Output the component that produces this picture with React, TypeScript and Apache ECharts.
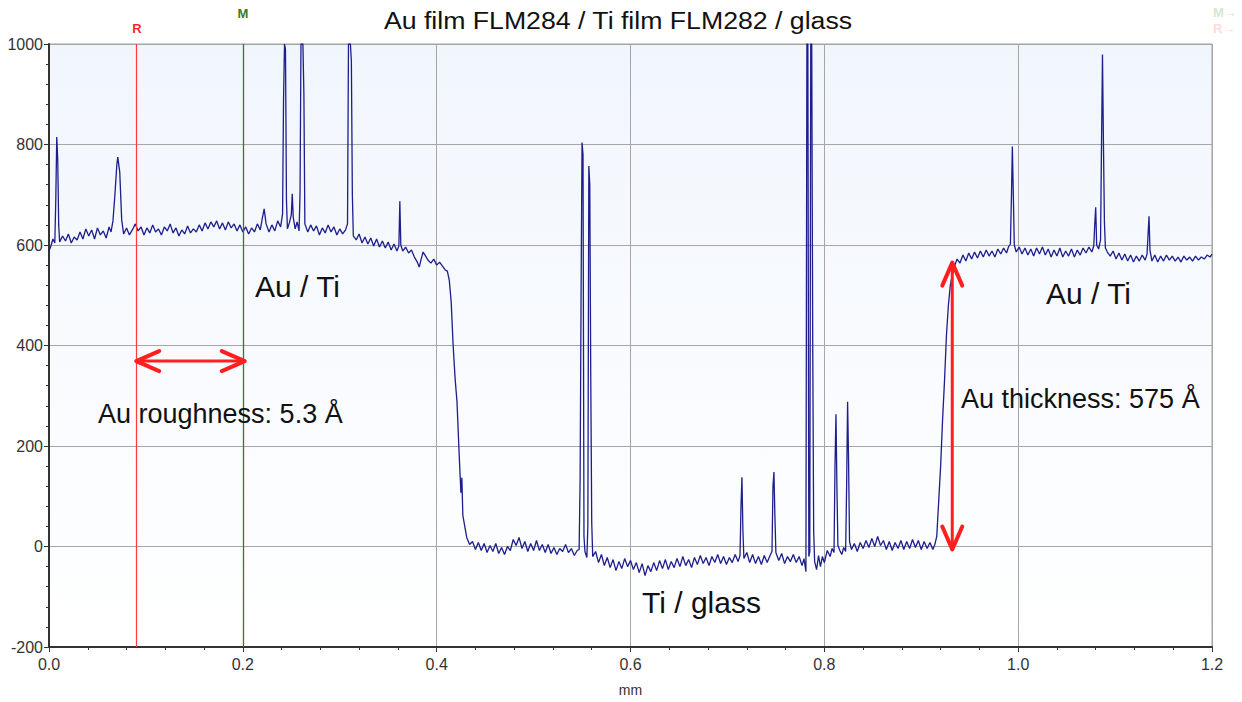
import React, { useEffect, useRef } from "react";
import * as echarts from "echarts";

// ---- data (mm, Å) ----
const auTiLeft: [number, number][] = [
  [0.000,588],[0.002,598],[0.004,612],[0.006,604],[0.007,690],[0.008,815],[0.009,770],[0.010,640],[0.011,606],
  [0.014,618],[0.017,608],[0.020,622],[0.023,604],[0.026,616],[0.029,610],[0.032,626],[0.035,612],[0.038,632],
  [0.041,618],[0.044,630],[0.047,612],[0.050,634],[0.053,620],[0.056,628],[0.059,614],[0.062,636],[0.064,626],
  [0.066,648],[0.068,700],[0.070,760],[0.071,775],[0.073,745],[0.075,650],[0.077,622],[0.080,634],[0.083,620],
  [0.086,630],[0.089,642],[0.092,628],[0.095,636],[0.098,620],[0.101,634],[0.104,624],[0.107,640],[0.110,626],
  [0.113,632],[0.116,620],[0.119,636],[0.122,628],[0.125,642],[0.128,624],[0.131,634],[0.134,618],[0.137,630],
  [0.140,622],[0.143,638],[0.146,624],[0.149,632],[0.152,626],[0.155,640],[0.158,628],[0.161,644],[0.164,632],
  [0.167,646],[0.170,636],[0.173,648],[0.176,632],[0.179,644],[0.182,630],[0.185,646],[0.188,634],[0.191,642],
  [0.194,628],[0.197,640],[0.200,626],[0.203,636],[0.206,622],[0.209,634],[0.212,626],[0.215,642],[0.218,630],
  [0.220,652],[0.222,672],[0.224,642],[0.227,626],[0.230,640],[0.233,628],[0.236,648],[0.239,636],[0.241,662],
  [0.242,890],[0.243,1000],[0.244,990],[0.245,690],[0.246,632],[0.248,644],[0.250,660],[0.251,702],[0.252,655],
  [0.254,632],[0.256,646],[0.258,628],[0.259,700],[0.260,1000],[0.262,1000],[0.263,900],[0.264,642],[0.267,626],
  [0.270,640],[0.273,628],[0.276,638],[0.279,620],[0.282,634],[0.285,624],[0.288,640],[0.291,626],[0.294,636],
  [0.297,620],[0.300,632],[0.303,622],[0.306,630],[0.308,642],[0.309,1000],[0.311,1000],[0.312,965],[0.313,700],
  [0.314,618],[0.317,610],[0.320,622],[0.323,604],[0.326,616],[0.329,602],[0.332,614],[0.335,598],[0.338,612],
  [0.341,596],[0.344,608],[0.347,594],[0.350,606],[0.353,590],[0.356,602],[0.359,588],[0.361,598],[0.362,687],
  [0.363,600],[0.365,588],[0.368,596],[0.371,584],[0.374,590],[0.377,576],[0.380,566],[0.382,556],[0.384,572],
  [0.386,586],[0.388,580],[0.391,570],[0.394,564],[0.397,572],[0.400,560],[0.403,566],[0.406,558],[0.409,550],
  [0.411,548],
];

const stepDown: [number, number][] = [
  [0.413,530],[0.415,486],[0.417,400],[0.419,335],[0.421,287],[0.423,193],[0.424,150],[0.425,107],[0.426,137],
  [0.427,62],[0.429,40],[0.431,18],[0.434,4],
];

const tiGlass: [number, number][] = [
  [0.437,10],[0.440,-6],[0.443,8],[0.446,-8],[0.449,6],[0.452,-12],[0.455,2],[0.458,-10],[0.461,6],[0.464,-14],
  [0.467,-2],[0.470,-16],[0.473,0],[0.476,-8],[0.479,14],[0.482,2],[0.485,18],[0.488,-4],[0.491,10],[0.494,-10],
  [0.497,6],[0.500,-8],[0.503,12],[0.506,-8],[0.509,4],[0.512,-12],[0.515,4],[0.518,-14],[0.521,-2],[0.524,-16],
  [0.527,-4],[0.530,-10],[0.533,4],[0.536,-12],[0.539,-4],[0.542,-18],[0.545,-8],[0.547,-6],[0.548,130],[0.549,500],
  [0.550,804],[0.551,780],[0.552,20],[0.553,-10],[0.555,-22],[0.556,40],[0.557,757],[0.558,720],[0.559,333],
  [0.560,47],[0.561,-20],[0.564,-10],[0.567,-32],[0.570,-16],[0.573,-38],[0.576,-22],[0.579,-42],[0.582,-26],
  [0.585,-48],[0.588,-30],[0.591,-44],[0.594,-24],[0.597,-40],[0.600,-28],[0.603,-46],[0.606,-32],[0.609,-52],
  [0.612,-34],[0.615,-58],[0.618,-38],[0.621,-50],[0.624,-32],[0.627,-48],[0.630,-28],[0.633,-44],[0.636,-26],
  [0.639,-46],[0.642,-30],[0.645,-42],[0.648,-24],[0.651,-40],[0.654,-20],[0.657,-38],[0.660,-26],[0.663,-42],
  [0.666,-22],[0.669,-36],[0.672,-18],[0.675,-34],[0.678,-22],[0.681,-38],[0.684,-20],[0.687,-32],[0.690,-16],
  [0.693,-34],[0.696,-20],[0.699,-36],[0.702,-22],[0.705,-32],[0.708,-16],[0.711,-30],[0.713,-18],[0.714,80],
  [0.715,138],[0.716,30],[0.717,-24],[0.720,-12],[0.723,-32],[0.726,-16],[0.729,-34],[0.732,-20],[0.735,-36],
  [0.738,-18],[0.741,-32],[0.744,-18],[0.746,-10],[0.747,120],[0.748,148],[0.749,60],[0.750,-12],[0.753,-28],
  [0.756,-14],[0.759,-34],[0.762,-20],[0.765,-30],[0.768,-16],[0.771,-32],[0.774,-20],[0.777,-38],[0.779,-24],
  [0.781,-50],[0.782,1000],[0.783,1000],[0.784,-20],[0.785,-10],[0.786,1000],[0.787,1000],[0.788,412],[0.789,31],
  [0.790,-30],[0.792,-46],[0.794,-18],[0.796,-40],[0.798,-20],[0.800,-32],[0.803,-8],[0.806,-20],[0.808,-4],
  [0.810,-12],[0.811,160],[0.812,263],[0.813,115],[0.814,2],[0.816,-8],[0.818,-16],[0.820,-2],[0.822,-10],
  [0.823,120],[0.824,288],[0.825,171],[0.826,10],[0.828,-6],[0.831,6],[0.834,-10],[0.837,8],[0.840,-4],[0.843,12],
  [0.846,-2],[0.849,16],[0.852,0],[0.855,20],[0.858,2],[0.861,12],[0.864,-6],[0.867,10],[0.870,-8],[0.873,8],
  [0.876,-4],[0.879,12],[0.882,-6],[0.885,10],[0.888,-4],[0.891,14],[0.894,-2],[0.897,12],[0.900,-6],[0.903,10],
  [0.906,-4],[0.909,8],[0.912,-6],[0.914,4],
];

const stepUp: [number, number][] = [
  [0.916,20],[0.918,90],[0.920,160],[0.922,252],[0.924,330],[0.926,420],[0.928,480],[0.930,520],[0.932,540],
  [0.934,556],[0.937,572],[0.940,564],
];

const auTiRight: [number, number][] = [
  [0.943,580],[0.946,568],[0.949,584],[0.952,572],[0.955,586],[0.958,574],[0.961,588],[0.964,576],[0.967,590],
  [0.970,578],[0.973,588],[0.976,576],[0.979,592],[0.982,582],[0.985,594],[0.988,584],[0.990,596],[0.992,602],
  [0.993,690],[0.994,796],[0.995,700],[0.996,600],[0.998,586],[1.001,596],[1.004,582],[1.007,594],[1.010,580],
  [1.013,592],[1.016,578],[1.019,594],[1.022,582],[1.025,596],[1.028,580],[1.031,592],[1.034,576],[1.037,590],
  [1.040,578],[1.043,594],[1.046,576],[1.049,588],[1.052,578],[1.055,592],[1.058,576],[1.061,590],[1.064,580],
  [1.067,594],[1.070,584],[1.073,596],[1.076,586],[1.078,598],[1.079,640],[1.080,675],[1.081,600],[1.083,592],
  [1.085,610],[1.086,800],[1.087,979],[1.088,800],[1.089,645],[1.090,594],[1.092,586],[1.095,578],[1.098,588],
  [1.101,572],[1.104,584],[1.107,570],[1.110,582],[1.113,568],[1.116,580],[1.119,566],[1.122,578],[1.125,568],
  [1.128,580],[1.131,570],[1.133,582],[1.134,620],[1.135,657],[1.136,590],[1.138,568],[1.141,580],[1.144,566],
  [1.147,578],[1.150,568],[1.153,580],[1.156,570],[1.159,578],[1.162,568],[1.165,576],[1.168,566],[1.171,578],
  [1.174,570],[1.177,576],[1.180,568],[1.183,578],[1.186,570],[1.189,576],[1.192,572],[1.195,580],[1.198,576],
  [1.200,582],
];

// markers (mm) and arrows [x1, y1, x2, y2]
const markerR = 0.091;
const markerM = 0.2;
const arrows: number[][] = [
  [0.090, 369, 0.202, 369],
  [0.932, 565, 0.932, -6],
];

const FONT = "'Liberation Sans', Arial, Helvetica, sans-serif";
const RED = "#ff1f1f";

export default function App() {
  const ref = useRef<HTMLDivElement>(null);

  useEffect(() => {
    if (!ref.current) return;
    const chart = echarts.init(ref.current, null, { renderer: "svg" });

    const trace = [...auTiLeft, ...stepDown, ...tiGlass, ...stepUp, ...auTiRight];

    const renderArrow = (_params: any, api: any) => {
      const p1 = api.coord([api.value(0), api.value(1)]);
      const p2 = api.coord([api.value(2), api.value(3)]);
      const dx = p2[0] - p1[0];
      const dy = p2[1] - p1[1];
      const len = Math.sqrt(dx * dx + dy * dy) || 1;
      const ux = dx / len;
      const uy = dy / len;
      const nx = -uy;
      const ny = ux;
      const L = 23;
      const W = 10;
      const st = { stroke: RED, lineWidth: 4, fill: null, lineCap: "round", lineJoin: "round" };
      return {
        type: "group",
        children: [
          { type: "line", shape: { x1: p1[0], y1: p1[1], x2: p2[0], y2: p2[1] }, style: { stroke: RED, lineWidth: 3 } },
          {
            type: "polyline",
            shape: { points: [[p1[0] + ux * L + nx * W, p1[1] + uy * L + ny * W], [p1[0], p1[1]], [p1[0] + ux * L - nx * W, p1[1] + uy * L - ny * W]] },
            style: st,
          },
          {
            type: "polyline",
            shape: { points: [[p2[0] - ux * L + nx * W, p2[1] - uy * L + ny * W], [p2[0], p2[1]], [p2[0] - ux * L - nx * W, p2[1] - uy * L - ny * W]] },
            style: st,
          },
        ],
      };
    };

    const labelText = (text: string, x: number, y: number, size: number, extra: any = {}) => ({
      type: "text",
      x,
      y,
      z: 100,
      ...extra,
      style: {
        text,
        fontSize: size,
        fontFamily: FONT,
        fill: "#111",
        textAlign: "left",
        textVerticalAlign: "middle",
        ...(extra.style || {}),
      },
    });

    chart.setOption({
      animation: false,
      backgroundColor: "#ffffff",
      grid: {
        left: 49,
        right: 30,
        top: 44,
        bottom: 55,
        show: true,
        borderColor: "#a0a0a0",
        borderWidth: 1,
        backgroundColor: new echarts.graphic.LinearGradient(0, 0, 0, 1, [
          { offset: 0, color: "#f1f6fd" },
          { offset: 1, color: "#ffffff" },
        ]),
      },
      xAxis: {
        type: "value",
        min: 0,
        max: 1.2,
        interval: 0.2,
        name: "mm",
        nameLocation: "middle",
        nameGap: 36,
        nameTextStyle: { fontSize: 14, color: "#333", fontFamily: FONT },
        axisLine: { show: true, onZero: false, lineStyle: { color: "#333", width: 2 } },
        axisTick: { show: true, length: 5, lineStyle: { color: "#333" } },
        minorTick: { show: true, splitNumber: 5, length: 3, lineStyle: { color: "#333" } },
        axisLabel: { margin: 9, fontSize: 16, color: "#333", fontFamily: FONT, formatter: (v: number) => v.toFixed(1) },
        splitLine: { show: true, lineStyle: { color: "#a6a6a6", width: 1 } },
      },
      yAxis: {
        type: "value",
        min: -200,
        max: 1000,
        interval: 200,
        axisLine: { show: true, onZero: false, lineStyle: { color: "#333", width: 2 } },
        axisTick: { show: true, length: 5, lineStyle: { color: "#333" } },
        minorTick: { show: true, splitNumber: 5, length: 3, lineStyle: { color: "#333" } },
        axisLabel: { margin: 6, fontSize: 16, color: "#333", fontFamily: FONT, formatter: (v: number) => String(v) },
        splitLine: { show: true, lineStyle: { color: "#a6a6a6", width: 1 } },
      },
      series: [
        {
          type: "line",
          data: trace,
          showSymbol: false,
          symbol: "none",
          lineStyle: { color: "#1d1d8c", width: 1.3 },
          z: 3,
          markLine: {
            silent: true,
            symbol: "none",
            label: { show: false },
            data: [
              { xAxis: markerR, lineStyle: { color: "#ff3b3b", width: 1.2, type: "solid" } },
              { xAxis: markerM, lineStyle: { color: "#3a7a1a", width: 1.3, type: "solid" } },
            ],
          },
        },
        {
          type: "custom",
          renderItem: renderArrow,
          data: arrows,
          encode: { x: [0, 2], y: [1, 3] },
          clip: false,
          z: 10,
          silent: true,
        },
      ],
      graphic: [
        {
          type: "text",
          x: 618,
          y: 21,
          scaleX: 1.16,
          z: 100,
          style: {
            text: "Au film FLM284 / Ti film FLM282 / glass",
            fontSize: 23,
            fontFamily: FONT,
            fill: "#111",
            textAlign: "center",
            textVerticalAlign: "middle",
          },
        },
        labelText("R", 137, 28, 13, { style: { fill: "#ff2a2a", fontWeight: "bold", textAlign: "center" } }),
        labelText("M", 243, 13, 13, { style: { fill: "#3d7a1e", fontWeight: "bold", textAlign: "center" } }),
        labelText("M\u2192", 1213, 12, 13, { style: { fill: "#d3e8d3", fontWeight: "bold" } }),
        labelText("R\u2192", 1213, 28, 13, { style: { fill: "#fddcdc", fontWeight: "bold" } }),
        labelText("Au / Ti", 255, 286, 30),
        labelText("Au / Ti", 1046, 293, 30),
        labelText("Ti / glass", 642, 602, 30),
        labelText("Au roughness: 5.3 \u00c5", 98, 414, 27),
        labelText("Au thickness: 575 \u00c5", 961, 399, 27),
      ],
    });

    return () => chart.dispose();
  }, []);

  return <div ref={ref} style={{ position: "fixed", left: 0, top: 0, width: 1242, height: 702 }} />;
}
